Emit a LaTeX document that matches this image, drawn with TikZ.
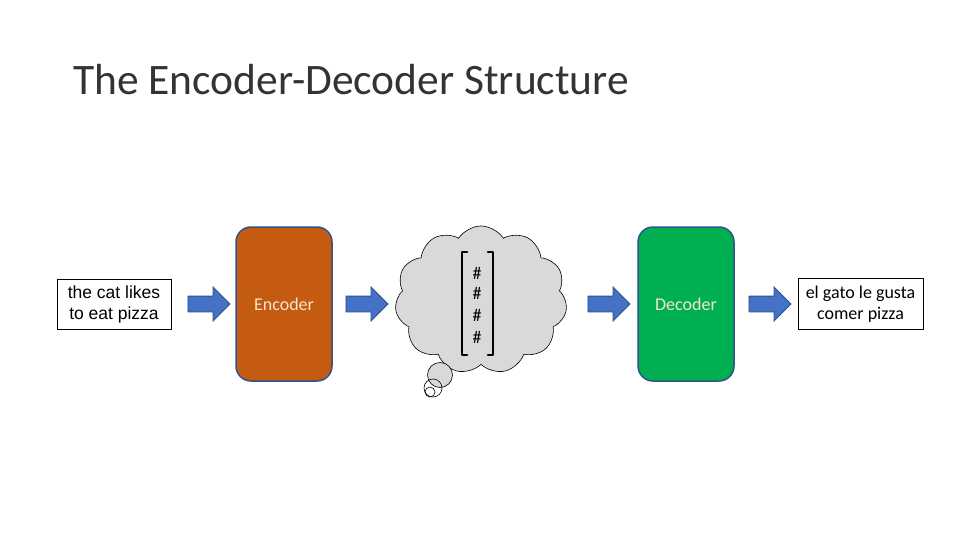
\documentclass[tikz,border=0pt]{standalone}
\usepackage{fontspec}
\setmainfont{Carlito}
\newfontfamily\arialfont{Liberation Sans}
\usetikzlibrary{shapes.arrows,shapes.symbols}
\definecolor{encfill}{HTML}{C55A11}
\definecolor{decfill}{HTML}{00B050}
\definecolor{boxedge}{HTML}{2F528F}
\definecolor{arrfill}{HTML}{4472C4}
\definecolor{cloudgray}{HTML}{D9D9D9}
\definecolor{enctext}{HTML}{F2E6D0}
\tikzset{
  x=1pt, y=-1pt,
  textbox/.style={draw=black, line width=0.8pt, fill=white, align=center, inner sep=0pt, font=\fontsize{18}{21}\selectfont},
  block/.style={rounded corners=15pt, draw=boxedge, line width=1.5pt, minimum width=96pt, minimum height=154pt, inner sep=0pt, font=\fontsize{18}{21}\selectfont},
  blockarrow/.style={single arrow, draw=boxedge, fill=arrfill, line width=0.8pt, minimum height=42pt, minimum width=33pt, single arrow head extend=9pt, inner xsep=0pt, inner ysep=7.5pt},
  bubble/.style={circle, draw=black, line width=0.6pt, inner sep=0pt},
  bracket/.style={line width=2.8pt, line cap=round, line join=round},
  hashnode/.style={font=\fontsize{18}{20}\selectfont, inner sep=0pt}
}
\begin{document}
\begin{tikzpicture}
\useasboundingbox[fill=white] (0,0) rectangle (960,540);
\node[anchor=base west, inner sep=0pt, text=black!80, font=\fontsize{43.5}{50}\selectfont] (title) at (73,95) {The Encoder-Decoder Structure};
% input
\node[textbox, minimum width=114pt, minimum height=50pt, font=\arialfont\fontsize{17.5}{21}\selectfont] (input) at (114,304) {the cat likes\\to eat pizza};
\node[blockarrow] (a1) at (205,304) {};
\node[block, fill=encfill, text=enctext] (enc) at (284,304) {Encoder};
\node[blockarrow] (a2) at (363,304) {};
% cloud
\node[cloud, cloud puffs=11, cloud puff arc=115, aspect=1.15, draw=black, line width=0.6pt, fill=cloudgray, minimum width=172pt, minimum height=148pt, inner sep=0pt] (cloud) at (481,300) {};
\node[bubble, fill=cloudgray, minimum size=25pt] (b1) at (440,375) {};
\node[bubble, minimum size=18pt] (b2) at (433,388) {};
\node[bubble, minimum size=10pt] (b3) at (430,392) {};
\coordinate (lbt) at (462,252);
\coordinate (lbb) at (462,355);
\coordinate (rbt) at (493,252);
\coordinate (rbb) at (493,355);
\draw[bracket] ([xshift=5pt]lbt) -- (lbt) -- (lbb) -- ([xshift=5pt]lbb);
\draw[bracket] ([xshift=-5pt]rbt) -- (rbt) -- (rbb) -- ([xshift=-5pt]rbb);
\node[hashnode] (h1) at (477,273) {\#};
\node[hashnode] (h2) at (477,293) {\#};
\node[hashnode] (h3) at (477,315) {\#};
\node[hashnode] (h4) at (477,337) {\#};
\node[blockarrow] (a3) at (605,304) {};
\node[block, fill=decfill, text=enctext] (dec) at (686,304) {Decoder};
\node[blockarrow] (a4) at (766,304) {};
\node[textbox, minimum width=125pt, minimum height=51pt] (output) at (860.5,304) {el gato le gusta\\comer pizza};
\end{tikzpicture}
\end{document}
